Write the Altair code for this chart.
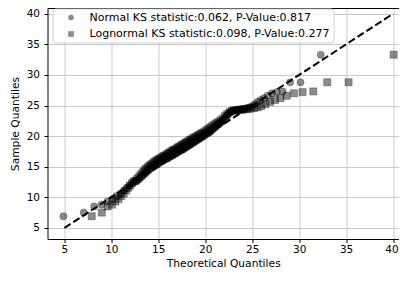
import altair as alt
import pandas as pd

# Sorted sample values (shared by both Q-Q series)
sample_q = [6.9, 7.5, 8.5, 8.8, 9.3, 9.7, 10.2, 10.6, 11.1, 11.5,
            11.9, 12.3, 12.6, 12.7, 13.0, 13.3, 13.6, 13.9, 14.2, 14.5,
            14.7, 14.9, 15.1, 15.3, 15.4, 15.6, 15.8, 15.9, 16.1, 16.2,
            16.3, 16.4, 16.6, 16.7, 16.8, 16.9, 17.1, 17.2, 17.3, 17.5,
            17.6, 17.7, 17.8, 17.9, 18.1, 18.2, 18.3, 18.5, 18.6, 18.7,
            18.9, 19.0, 19.1, 19.3, 19.4, 19.5, 19.7, 19.8, 19.9, 20.1,
            20.2, 20.4, 20.5, 20.6, 20.8, 21.0, 21.2, 21.4, 21.6, 21.8,
            22.0, 22.2, 22.4, 22.6, 22.9, 23.3, 23.6, 23.9, 24.1, 24.2,
            24.2, 24.3, 24.3, 24.4, 24.4, 24.5, 24.6, 24.7, 24.9, 25.2,
            25.6, 25.9, 26.2, 26.6, 27.0, 27.2, 27.3, 28.8, 28.8, 33.3]

# Theoretical quantiles (normal fit)
normal_x = [4.90, 7.06, 8.17, 8.96, 9.58, 10.10, 10.55, 10.94, 11.30, 11.63,
            11.93, 12.22, 12.48, 12.73, 12.97, 13.20, 13.42, 13.63, 13.83, 14.02,
            14.22, 14.40, 14.58, 14.76, 14.93, 15.09, 15.26, 15.42, 15.58, 15.73,
            15.89, 16.04, 16.18, 16.33, 16.48, 16.62, 16.76, 16.90, 17.05, 17.18,
            17.32, 17.46, 17.59, 17.73, 17.87, 18.00, 18.13, 18.26, 18.40, 18.53,
            18.67, 18.80, 18.94, 19.07, 19.20, 19.33, 19.47, 19.61, 19.74, 19.88,
            20.02, 20.15, 20.30, 20.44, 20.58, 20.72, 20.87, 21.02, 21.16, 21.31,
            21.47, 21.62, 21.78, 21.94, 22.11, 22.27, 22.44, 22.62, 22.80, 22.98,
            23.18, 23.37, 23.57, 23.78, 24.00, 24.23, 24.47, 24.72, 24.98, 25.27,
            25.57, 25.90, 26.26, 26.65, 27.10, 27.62, 28.24, 29.03, 30.14, 32.30]

# Theoretical quantiles (lognormal fit)
lognormal_x = [7.91, 8.98, 9.60, 10.06, 10.43, 10.76, 11.05, 11.31, 11.55, 11.78,
               11.99, 12.20, 12.39, 12.57, 12.75, 12.93, 13.10, 13.26, 13.42, 13.58,
               13.73, 13.88, 14.03, 14.18, 14.32, 14.46, 14.60, 14.74, 14.88, 15.02,
               15.16, 15.29, 15.43, 15.56, 15.70, 15.83, 15.97, 16.10, 16.23, 16.37,
               16.50, 16.63, 16.77, 16.90, 17.04, 17.18, 17.31, 17.45, 17.59, 17.73,
               17.87, 18.01, 18.15, 18.30, 18.44, 18.59, 18.74, 18.89, 19.04, 19.19,
               19.35, 19.51, 19.68, 19.84, 20.01, 20.18, 20.35, 20.53, 20.71, 20.90,
               21.09, 21.28, 21.49, 21.69, 21.90, 22.12, 22.34, 22.57, 22.82, 23.07,
               23.33, 23.60, 23.89, 24.19, 24.50, 24.84, 25.19, 25.57, 25.97, 26.42,
               26.90, 27.42, 28.01, 28.67, 29.44, 30.36, 31.50, 32.99, 35.26, 40.06]

labels = ["Normal KS statistic:0.062, P-Value:0.817",
          "Lognormal KS statistic:0.098, P-Value:0.277"]
ref_line = [5, 40]
x_ticks = [5, 10, 15, 20, 25, 30, 35, 40]
y_ticks = [5, 10, 15, 20, 25, 30, 35, 40]

df = pd.DataFrame({
    "theoretical": normal_x + lognormal_x,
    "sample": sample_q + sample_q,
    "dist": [labels[0]] * len(normal_x) + [labels[1]] * len(lognormal_x),
})
line_df = pd.DataFrame({"theoretical": ref_line, "sample": ref_line})

FONT = "DejaVu Sans"
xscale = alt.Scale(domain=[3.2, 40.63], nice=False, zero=False)
yscale = alt.Scale(domain=[3.18, 40.94], nice=False, zero=False)

y_enc = alt.Y("sample:Q", scale=yscale,
              axis=alt.Axis(title="Sample Quantiles", values=y_ticks))

points = alt.Chart(df).mark_point(
    filled=True, size=52, fill="black", fillOpacity=0.45,
    stroke="black", strokeOpacity=0.25, strokeWidth=1
).encode(
    x=alt.X("theoretical:Q", scale=xscale,
            axis=alt.Axis(title="Theoretical Quantiles", values=x_ticks,
                          labelFlush=8, labelFlushOffset=5)),
    y=y_enc,
    shape=alt.Shape(
        "dist:N",
        scale=alt.Scale(domain=labels, range=["circle", "square"]),
        legend=alt.Legend(
            title=None, orient="none", legendX=5, legendY=0.5,
            direction="vertical",
            fillColor="rgba(255,255,255,0.8)", strokeColor="#d0d0d0",
            cornerRadius=3, padding=3.5,
            labelFont=FONT, labelFontSize=11, labelColor="black",
            labelLimit=400,
            symbolSize=32, symbolOffset=9.5, labelOffset=13,
            symbolFillColor="#8c8c8c", symbolStrokeColor="#707070",
            symbolOpacity=0.45,
            symbolStrokeWidth=1, rowPadding=4.5,
        ),
    ),
)

# reference line; its x axis doubles as the top spine
line = alt.Chart(line_df).mark_line(
    color="black", strokeWidth=2, strokeDash=[7.4, 3.2]
).encode(
    x=alt.X("theoretical:Q", scale=xscale,
            axis=alt.Axis(orient="top", title=None, labels=False, ticks=False,
                          grid=False, domain=True)),
    y=y_enc,
)

chart = alt.layer(points, line).resolve_axis(x="independent").properties(
    width=351.5, height=231,
    padding={"left": 39.5, "top": 0, "right": 0, "bottom": 30},
    autosize="none",
).configure_view(
    stroke=None
).configure_axis(
    domainColor="black", domainWidth=1,
    tickColor="black", tickSize=3.5, tickWidth=1,
    labelFont=FONT, labelFontSize=10.5, labelColor="black",
    titleFont=FONT, titleFontSize=10.7, titleFontWeight="normal", titleColor="black",
    gridColor="#c4c4c4", gridWidth=0.9,
).configure_axisX(
    labelPadding=2, titlePadding=3,
).configure_axisY(
    labelPadding=4.5, titlePadding=6,
)

chart.save("out.html", embed_options={"renderer": "svg", "actions": False})
